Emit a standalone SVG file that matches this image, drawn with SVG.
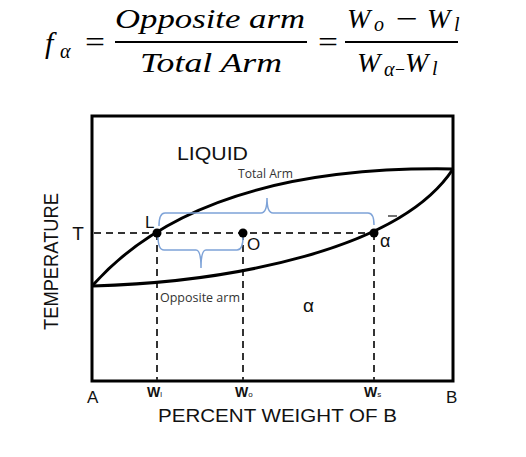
<svg xmlns="http://www.w3.org/2000/svg" width="526" height="457" viewBox="0 0 526 457">
<defs>
<style>
.eq{font-family:"Liberation Serif","DejaVu Serif",serif;font-style:italic;fill:#000}
.eqn{font-family:"Liberation Serif","DejaVu Serif",serif;fill:#000}
.lbl{font-family:"Liberation Sans","DejaVu Sans",sans-serif;fill:#111}
.sm{font-family:"Open Sans","Liberation Sans",sans-serif;fill:#333}
.curve{fill:none;stroke:#000;stroke-width:3}
.dash{fill:none;stroke:#333;stroke-width:2;stroke-dasharray:7 5}
.brace{fill:none;stroke:#7ea3d8;stroke-width:1.5}
.dot{fill:#000}
</style>
</defs>
<rect width="526" height="457" fill="#fff"/>
<g id="equation">
<text class="eq" x="45" y="53" font-size="30">f</text>
<text class="eq" x="60" y="58" font-size="20">α</text>
<text class="eqn" x="85" y="52" font-size="30" textLength="20" lengthAdjust="spacingAndGlyphs">=</text>
<text class="eq" x="115" y="28" font-size="28" textLength="190" lengthAdjust="spacingAndGlyphs">Opposite arm</text>
<line x1="115" y1="42" x2="307" y2="42" stroke="#000" stroke-width="2"/>
<text class="eq" x="140" y="72" font-size="28" textLength="142" lengthAdjust="spacingAndGlyphs">Total Arm</text>
<text class="eqn" x="318" y="52" font-size="30" textLength="20" lengthAdjust="spacingAndGlyphs">=</text>
<text class="eq" x="347" y="28" font-size="28">W</text>
<text class="eq" x="374" y="31" font-size="20">o</text>
<text class="eqn" x="396" y="28" font-size="28" textLength="22" lengthAdjust="spacingAndGlyphs">−</text>
<text class="eq" x="427" y="28" font-size="28">W</text>
<text class="eq" x="454" y="31" font-size="20">l</text>
<line x1="345" y1="42" x2="458" y2="42" stroke="#000" stroke-width="2"/>
<text class="eq" x="357" y="72" font-size="28">W</text>
<text class="eq" x="384" y="76" font-size="20">α</text>
<text class="eqn" x="395" y="76" font-size="20" textLength="10" lengthAdjust="spacingAndGlyphs">−</text>
<text class="eq" x="405" y="72" font-size="28">W</text>
<text class="eq" x="432" y="75" font-size="20">l</text>
</g>
<g id="frame">
<rect x="92" y="116" width="361" height="265" fill="none" stroke="#000" stroke-width="3"/>
</g>
<g id="connectors">
<path class="dash" d="M94,233 H374"/>
<path class="dash" d="M157,233 V380"/>
<path class="dash" d="M243,233 V380"/>
<path class="dash" d="M374,233 V380"/>
<path id="liquidus" class="curve" d="M93,285 Q200,165 453,169"/>
<path id="solidus" class="curve" d="M93,286 C230,282 400,250 453,169"/>
<path class="brace" d="M159,226 Q159,213 165,213 L261,213 Q267,213 267,198 Q267,213 273,213 L368,213 Q374,213 374,225"/>
<path class="brace" d="M158,236 Q158,250 164,250 L196,250 Q201,250 201,268 Q201,250 206,250 L237,250 Q243,250 243,237"/>
<line x1="388" y1="216" x2="397" y2="216" stroke="#444" stroke-width="1.5"/>
</g>
<g id="L"><circle class="dot" cx="157" cy="233" r="4.5"/><text class="lbl" x="145" y="228" font-size="17">L</text></g>
<g id="O"><circle class="dot" cx="243" cy="233" r="4.5"/><text class="lbl" x="247" y="250" font-size="17">O</text></g>
<g id="alpha-point"><circle class="dot" cx="374" cy="233" r="4.5"/><text class="lbl" x="380" y="247" font-size="18">α</text></g>
<g id="labels">
<text class="lbl" x="177" y="160" font-size="18" textLength="71" lengthAdjust="spacingAndGlyphs">LIQUID</text>
<text class="sm" x="238" y="178" font-size="12" textLength="55" lengthAdjust="spacingAndGlyphs">Total Arm</text>
<text class="sm" x="160" y="302" font-size="12" textLength="80" lengthAdjust="spacingAndGlyphs">Opposite arm</text>
<text class="lbl" x="303" y="312" font-size="19">α</text>
<text class="lbl" x="78" y="240" font-size="19" text-anchor="middle">T</text>
<text class="lbl" transform="translate(58,261.5) rotate(-90)" font-size="20" text-anchor="middle" textLength="137" lengthAdjust="spacingAndGlyphs">TEMPERATURE</text>
<text class="lbl" x="87" y="403" font-size="17">A</text>
<text class="lbl" x="446" y="403" font-size="17">B</text>
<text class="lbl" x="147" y="397" font-size="14" font-weight="bold">W<tspan font-size="8" font-weight="normal">l</tspan></text>
<text class="lbl" x="235" y="397" font-size="14" font-weight="bold">W<tspan font-size="8" font-weight="normal">o</tspan></text>
<text class="lbl" x="364" y="397" font-size="14" font-weight="bold">W<tspan font-size="8" font-weight="normal">s</tspan></text>
<text class="lbl" x="158" y="422" font-size="18" textLength="239" lengthAdjust="spacingAndGlyphs">PERCENT WEIGHT OF B</text>
</g>
</svg>
